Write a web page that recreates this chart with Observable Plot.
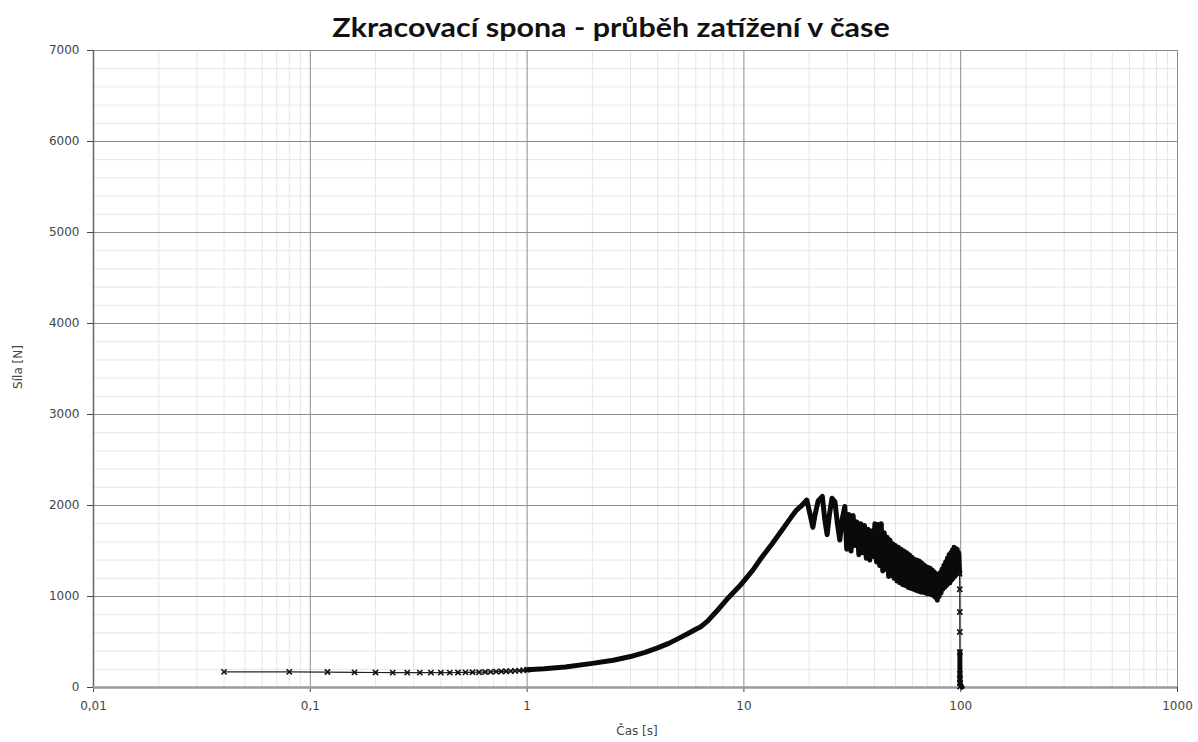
<!DOCTYPE html>
<html>
<head>
<meta charset="utf-8">
<script src="https://cdn.jsdelivr.net/npm/d3@7"></script>
<script src="https://cdn.jsdelivr.net/npm/@observablehq/plot@0.6"></script>
<style>
  body { margin: 0; background: #fff; }
  #wrap { position: relative; width: 1198px; height: 742px; overflow: hidden; }
  #title { position: absolute; left: 0; top: 11px; width: 1222px; text-align: center;
           font: bold 26px Lato, "Open Sans", sans-serif; color: #111;
           transform: scaleX(1.17); transform-origin: 611px 0; }
  #chart { position: absolute; left: 0; top: 0; }
  .axis-title { position: absolute; font: 12px "DejaVu Sans", sans-serif; color: #444; white-space: nowrap; }
  #xtitle { left: 537px; width: 200px; top: 724px; text-align: center; }
  #ytitle { left: -82px; width: 200px; top: 360px; text-align: center; transform: rotate(-90deg); }
</style>
</head>
<body>
<div id="wrap">
  <div id="chart"></div>
  <div id="title">Zkracovací spona - průběh zatížení v čase</div>
  <div class="axis-title" id="xtitle">Čas [s]</div>
  <div class="axis-title" id="ytitle">Síla [N]</div>
</div>
<script>
// Start of the record: sparse samples (every 0.04 s), drawn with markers
const startTime  = [0.04, 0.08, 0.12, 0.16, 0.20, 0.24, 0.28, 0.32, 0.36, 0.40, 0.44, 0.48, 0.52,
                    0.56, 0.60, 0.64, 0.68, 0.72, 0.76, 0.80, 0.84, 0.88, 0.92, 0.96, 1.00];
const startForce = [172, 172, 170, 166, 165, 164, 163, 163, 163, 164, 164, 165, 166,
                    167, 168, 170, 172, 174, 176, 178, 180, 183, 186, 190, 195];

// Loading phase, peak and oscillating decline (dense samples)
const mainTime  = [1.0, 1.2, 1.5, 2.0, 2.5, 3.0, 3.5, 4.0, 4.5, 5.0, 5.5, 6.0, 6.3, 6.8, 7.5, 8.5,
                   9.6, 11, 12, 13.5, 15, 16.5, 17.5, 18.5, 19.5,
                   20.2, 20.8, 21.3, 22.0, 23.0, 23.6, 24.2, 24.8, 25.5, 26.3, 27.0, 27.7, 28.4,
                   29.2, 29.8, 30.5, 31.2, 31.9, 32.5, 33.2, 33.9, 34.6, 35.3, 36.0, 36.7,
                   37.4, 38.1, 38.8, 39.5, 40.2, 40.9, 41.6, 42.3, 43.0, 43.7, 44.4, 45.1,
                   45.8, 46.5, 47.2, 47.9, 48.6, 49.3, 50.0, 50.8, 51.6, 52.4, 53.2, 54.0,
                   54.8, 55.6, 56.4, 57.2, 58.0, 58.8, 59.6, 60.4, 61.2, 62.0, 62.8, 63.6,
                   64.4, 65.2, 66.0, 66.8, 67.6, 68.4, 69.2, 70.0, 70.8, 71.6, 72.4, 73.2,
                   74.0, 74.8, 75.6, 76.4, 77.2, 78.0, 78.8, 79.6, 80.4, 81.2, 82.0, 82.8,
                   83.6, 84.4, 85.2, 86.0, 86.8, 87.6, 88.4, 89.2, 90.0, 90.8, 91.6, 92.4,
                   93.2, 94.0, 94.8, 95.6, 96.4, 97.2, 98.0, 98.8];
const mainForce = [195, 205, 225, 265, 300, 340, 385, 435, 485, 540, 590, 640, 665, 730, 840, 990,
                   1120, 1290, 1420, 1580, 1730, 1870, 1950, 2000, 2060,
                   1900, 1760, 1900, 2050, 2100, 1850, 1680, 1900, 2080, 2040, 1800, 1620, 1850,
                   1990, 1520, 1900, 1500, 1890, 1560, 1820, 1460, 1800, 1480, 1780, 1420,
                   1740, 1400, 1720, 1440, 1800, 1380, 1790, 1340, 1800, 1280, 1700, 1300,
                   1650, 1220, 1620, 1230, 1580, 1200, 1560, 1170, 1540, 1150, 1520, 1130,
                   1500, 1120, 1480, 1100, 1460, 1090, 1430, 1080, 1410, 1070, 1400, 1060,
                   1390, 1050, 1370, 1050, 1350, 1040, 1330, 1030, 1320, 1030, 1310, 1020,
                   1290, 1010, 1270, 990, 1250, 960, 1240, 1000, 1260, 1040, 1300, 1080,
                   1340, 1100, 1380, 1120, 1420, 1140, 1460, 1150, 1480, 1180, 1510, 1200,
                   1540, 1220, 1530, 1250, 1520, 1300, 1480, 1250];

// Unloading after rupture
const dropTime  = [98.8, 99.0, 99.04, 99.08, 99.12, 99.16, 99.2, 99.24, 99.28];
const dropForce = [1250, 1080, 830, 610, 390, 150, 90, 50, 10];
const tailTime  = [99.12, 99.16, 99.2, 99.24, 99.28, 99.5, 100.5, 101.5];
const tailForce = [390, 150, 120, 90, 60, 40, 20, 5];

// Axis ticks and labels
const xTicks = [0.01, 0.1, 1, 10, 100, 1000];
const xTickLabels = ["0,01", "0,1", "1", "10", "100", "1000"];
const yTicks = [0, 1000, 2000, 3000, 4000, 5000, 6000, 7000];
const yTickLabels = ["0", "1000", "2000", "3000", "4000", "5000", "6000", "7000"];
const xMinor = [0.02, 0.03, 0.04, 0.05, 0.06, 0.07, 0.08, 0.09,
                0.2, 0.3, 0.4, 0.5, 0.6, 0.7, 0.8, 0.9,
                2, 3, 4, 5, 6, 7, 8, 9,
                20, 30, 40, 50, 60, 70, 80, 90,
                200, 300, 400, 500, 600, 700, 800, 900];
const yMinor = [200, 400, 600, 800, 1200, 1400, 1600, 1800, 2200, 2400, 2600, 2800,
                3200, 3400, 3600, 3800, 4200, 4400, 4600, 4800, 5200, 5400, 5600, 5800,
                6200, 6400, 6600, 6800];

const start = startTime.map((t, i) => ({t, f: startForce[i]}));
const main  = mainTime.map((t, i) => ({t, f: mainForce[i]}));
const drop  = dropTime.map((t, i) => ({t, f: dropForce[i]}));
const tail  = tailTime.map((t, i) => ({t, f: tailForce[i]}));

const chart = Plot.plot({
  width: 1198,
  height: 742,
  marginLeft: 93,
  marginRight: 21,
  marginTop: 50,
  marginBottom: 55,
  style: { fontFamily: "DejaVu Sans, sans-serif", fontSize: "12px", color: "#444", background: "#fff" },
  x: {
    type: "log", domain: [0.01, 1000], ticks: xTicks,
    tickFormat: d => xTickLabels[xTicks.indexOf(d)],
    tickSize: 5, tickPadding: 9, label: null
  },
  y: {
    domain: [0, 7000], ticks: yTicks,
    tickFormat: d => yTickLabels[yTicks.indexOf(d)],
    tickSize: 6, tickPadding: 8, label: null
  },
  marks: [
    Plot.ruleX(xMinor, { stroke: "#e6e6e6", strokeWidth: 1 }),
    Plot.ruleY(yMinor, { stroke: "#e6e6e6", strokeWidth: 1 }),
    Plot.ruleX(xTicks, { stroke: "#8c8c8c", strokeWidth: 1 }),
    Plot.ruleY(yTicks, { stroke: "#8c8c8c", strokeWidth: 1 }),
    Plot.ruleX([0.01], { stroke: "#666", strokeWidth: 1.5 }),
    Plot.ruleY([0], { stroke: "#9a9a9a", strokeWidth: 2.5 }),
    Plot.line(start, { x: "t", y: "f", stroke: "#222", strokeWidth: 1.2 }),
    Plot.dot(start, { x: "t", y: "f", symbol: "times", r: 2.5, stroke: "#111", strokeWidth: 1.6 }),
    Plot.line(main, { x: "t", y: "f", stroke: "#0a0a0a", strokeWidth: 5, strokeLinejoin: "round" }),
    Plot.line(drop, { x: "t", y: "f", stroke: "#222", strokeWidth: 1.2 }),
    Plot.dot(drop, { x: "t", y: "f", symbol: "times", r: 2.5, stroke: "#111", strokeWidth: 1.6 }),
    Plot.line(tail, { x: "t", y: "f", stroke: "#0a0a0a", strokeWidth: 5 })
  ]
});
document.getElementById("chart").appendChild(chart);
</script>
</body>
</html>
